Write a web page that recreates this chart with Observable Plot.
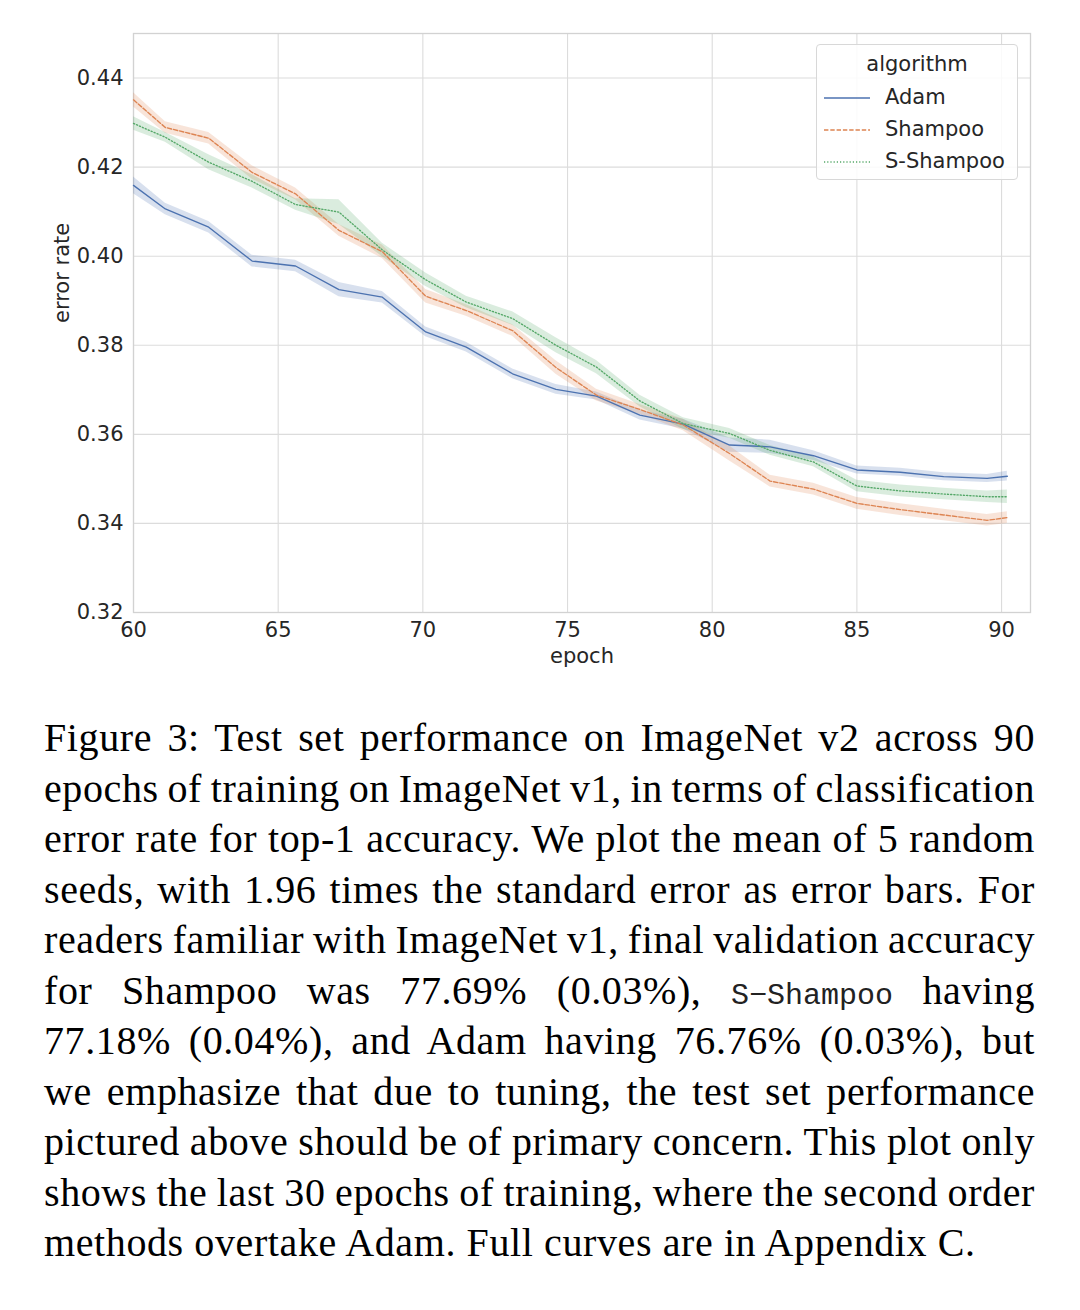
<!DOCTYPE html>
<html><head><meta charset="utf-8">
<script src="https://cdn.jsdelivr.net/npm/d3@7"></script>
<script src="https://cdn.jsdelivr.net/npm/@observablehq/plot@0.6"></script>
<style>
html,body{margin:0;padding:0;background:#fff}
body{width:1080px;height:1310px;position:relative;overflow:hidden}
#chart{position:absolute;left:0;top:0}
#legend{position:absolute;left:816px;top:44px;width:202px;height:136px;border:1px solid #d8d8d8;border-radius:4px;background:rgba(255,255,255,0.85);font-family:"DejaVu Sans";font-size:21px;color:#262626;box-sizing:border-box}
#legend .title{position:absolute;left:0;width:100%;top:4px;text-align:center;line-height:30px}
#legend .row{position:absolute;left:0;width:100%;height:30px}
#legend .row svg{position:absolute;left:7px;top:14px}
#legend .row span{position:absolute;left:68px;top:0;line-height:30px}
#caption{position:absolute;left:44px;top:713px;width:991px;font-family:"Liberation Serif","Times New Roman",serif;font-size:40px;letter-spacing:0.6px;line-height:50.5px;color:#000}
#caption .ln{white-space:nowrap;height:50.5px}
#caption .mono{font-family:"Liberation Mono","DejaVu Sans Mono",monospace;font-size:30px;letter-spacing:0;color:#222}
</style>
</head><body>
<div id="chart"></div>
<div id="legend"></div>
<div id="caption"></div>
<script>
// ---- data ----
const epochs = [60.0, 61.1, 62.6, 64.1, 65.6, 67.1, 68.6, 70.1, 71.5, 73.1, 74.6, 76.0, 77.5, 79.0, 80.6, 82.0, 83.5, 85.0, 86.5, 88.0, 89.5, 90.2];
const adam     = [0.4159, 0.4106, 0.4065, 0.3989, 0.3978, 0.3925, 0.3908, 0.3830, 0.3796, 0.3736, 0.3701, 0.3686, 0.3643, 0.3623, 0.3576, 0.3572, 0.3552, 0.3520, 0.3515, 0.3505, 0.3501, 0.3506];
const shampoo  = [0.4351, 0.4289, 0.4265, 0.4188, 0.4140, 0.4058, 0.4010, 0.3910, 0.3878, 0.3833, 0.3750, 0.3688, 0.3656, 0.3621, 0.3557, 0.3495, 0.3477, 0.3445, 0.3431, 0.3419, 0.3407, 0.3413];
const sShampoo = [0.4298, 0.4267, 0.4211, 0.4168, 0.4116, 0.4099, 0.4014, 0.3947, 0.3897, 0.3860, 0.3800, 0.3751, 0.3675, 0.3624, 0.3602, 0.3564, 0.3538, 0.3484, 0.3473, 0.3466, 0.3460, 0.3460];
// half-widths of the error bands
const adamErr     = [0.0019, 0.0013, 0.0013, 0.0013, 0.0013, 0.0016, 0.0013, 0.0011, 0.0011, 0.0011, 0.0011, 0.0009, 0.0011, 0.0011, 0.0016, 0.0015, 0.0011, 0.0009, 0.0009, 0.0009, 0.0009, 0.0011];
const shampooErr  = [0.0016, 0.0013, 0.0013, 0.0015, 0.0013, 0.0013, 0.0015, 0.0015, 0.0013, 0.0013, 0.0015, 0.0013, 0.0011, 0.0013, 0.0017, 0.0013, 0.0013, 0.0013, 0.0013, 0.0013, 0.0013, 0.0013];
const sShampooErr = [0.0015, 0.0011, 0.0017, 0.0015, 0.0013, 0.0028, 0.0015, 0.0015, 0.0013, 0.0015, 0.0017, 0.0015, 0.0013, 0.0013, 0.0011, 0.0011, 0.0011, 0.0013, 0.0013, 0.0013, 0.0013, 0.0015];
const algorithms = ["Adam", "Shampoo", "S-Shampoo"];
const xTicks = [60, 65, 70, 75, 80, 85, 90];
const yTicks = [0.32, 0.34, 0.36, 0.38, 0.40, 0.42, 0.44];
const xLabel = "epoch";
const yLabel = "error rate";
const legendTitle = "algorithm";

// ---- styles ----
const colors = ["#4c72b0", "#dd8452", "#55a868"];
const dashes = [null, "4.4,1.9", "1.2,2"];

const series = [adam, shampoo, sShampoo];
const errs = [adamErr, shampooErr, sShampooErr];
const rows = [];
algorithms.forEach((a, i) => {
  epochs.forEach((e, j) => {
    rows.push({algorithm: a, epoch: e, value: series[i][j], lo: series[i][j] - errs[i][j], hi: series[i][j] + errs[i][j]});
  });
});

const chart = Plot.plot({
  width: 1080, height: 680,
  marginLeft: 133, marginRight: 50, marginTop: 33, marginBottom: 68,
  style: {fontFamily: "DejaVu Sans", fontSize: "21px", color: "#262626", background: "#fff"},
  x: {domain: [60, 91], label: null},
  y: {domain: [0.32, 0.45], label: null},
  color: {domain: algorithms, range: colors},
  marks: [
    Plot.gridX(xTicks, {stroke: "#dcdcdc", strokeOpacity: 1, strokeWidth: 1.1}),
    Plot.gridY(yTicks, {stroke: "#dcdcdc", strokeOpacity: 1, strokeWidth: 1.1}),
    Plot.frame({stroke: "#d2d2d2", strokeWidth: 1.3}),
    Plot.areaY(rows, {x: "epoch", y1: "lo", y2: "hi", z: "algorithm", fill: "algorithm", fillOpacity: 0.22}),
    ...algorithms.map((a, i) => Plot.lineY(rows.filter(r => r.algorithm === a), {
      x: "epoch", y: "value", stroke: "algorithm", strokeWidth: 1.35, strokeDasharray: dashes[i]
    })),
    Plot.axisX(xTicks, {tickSize: 0, tickPadding: 10, fontSize: 21, label: null}),
    Plot.axisY(yTicks, {tickSize: 0, tickPadding: 10, fontSize: 21, label: null, tickFormat: d => d.toFixed(2)}),
    Plot.text([xLabel], {frameAnchor: "bottom", dy: 50, text: d => d, fontSize: 21}),
    Plot.text([yLabel], {frameAnchor: "left", dx: -71, rotate: -90, text: d => d, fontSize: 21})
  ]
});
document.getElementById("chart").appendChild(chart);

// ---- legend ----
const leg = document.getElementById("legend");
const t = document.createElement("div");
t.className = "title"; t.textContent = legendTitle; leg.appendChild(t);
algorithms.forEach((a, i) => {
  const r = document.createElement("div");
  r.className = "row";
  r.style.top = (37 + i * 32) + "px";
  r.innerHTML = `<svg width="46" height="4"><line x1="0" x2="46" y1="2" y2="2" stroke="${colors[i]}" stroke-width="1.3" ${dashes[i] ? `stroke-dasharray="${dashes[i]}"` : ""}/></svg><span></span>`;
  r.querySelector("span").textContent = a;
  leg.appendChild(r);
});

// ---- caption ----
const captionLines = [
  "Figure 3: Test set performance on ImageNet v2 across 90",
  "epochs of training on ImageNet v1, in terms of classification",
  "error rate for top-1 accuracy. We plot the mean of 5 random",
  "seeds, with 1.96 times the standard error as error bars. For",
  "readers familiar with ImageNet v1, final validation accuracy",
  "for Shampoo was 77.69% (0.03%), @@S−Shampoo@@ having",
  "77.18% (0.04%), and Adam having 76.76% (0.03%), but",
  "we emphasize that due to tuning, the test set performance",
  "pictured above should be of primary concern. This plot only",
  "shows the last 30 epochs of training, where the second order",
  "methods overtake Adam. Full curves are in Appendix C."
];
const capWidth = 991;
const cap = document.getElementById("caption");
captionLines.forEach((line, i) => {
  const d = document.createElement("div");
  d.className = "ln";
  const inner = document.createElement("span");
  d.appendChild(inner);
  line.split("@@").forEach((part, k) => {
    if (k % 2 === 1) {
      const s = document.createElement("span");
      s.className = "mono"; s.textContent = part; inner.appendChild(s);
    } else {
      inner.appendChild(document.createTextNode(part));
    }
  });
  cap.appendChild(d);
  if (i < captionLines.length - 1) {
    const w = inner.getBoundingClientRect().width;
    const nSpaces = (line.match(/ /g) || []).length;
    let ws = (capWidth - w) / nSpaces;
    if (ws < -2) {
      const nChars = line.replace(/@@/g, "").length;
      const ls = 0.6 + (capWidth - w + 2 * nSpaces) / nChars;
      inner.style.letterSpacing = ls + "px";
      ws = -2;
    }
    inner.style.wordSpacing = ws + "px";
    const w2 = inner.getBoundingClientRect().width;
    const ws2 = ws + (capWidth - w2) / nSpaces;
    inner.style.wordSpacing = ws2 + "px";
  }
});
</script>
</body></html>
